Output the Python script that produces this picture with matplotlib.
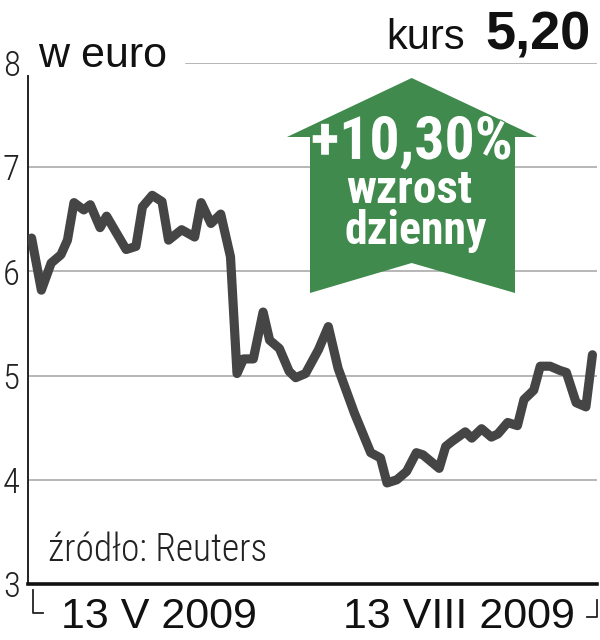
import matplotlib
matplotlib.use("Agg")
import matplotlib.pyplot as plt
import matplotlib.patheffects as pe
from matplotlib.patches import Polygon

# kurs akcji w euro, dni sesyjne od poczatku wykresu
days = [0, 3, 6, 9, 11, 13, 16, 18, 21, 23, 29, 32, 34, 37, 40, 42, 46, 50, 52, 55,
        58, 61, 63, 65, 68, 71, 73, 76, 79, 81, 84, 88, 91, 94, 99, 104, 107, 109,
        112, 115, 118, 120, 125, 127, 129, 133, 135, 138, 141, 143, 146, 149, 151,
        154, 156, 159, 162, 164, 167, 170, 172]
kurs = [6.32, 5.82, 6.08, 6.16, 6.30, 6.66, 6.59, 6.64, 6.42, 6.53, 6.21, 6.24, 6.62,
        6.73, 6.67, 6.30, 6.40, 6.33, 6.66, 6.46, 6.55, 6.14, 5.02, 5.16, 5.16, 5.61,
        5.34, 5.26, 5.04, 4.98, 5.02, 5.25, 5.47, 5.07, 4.64, 4.26, 4.21, 3.97, 4.00,
        4.08, 4.26, 4.24, 4.11, 4.32, 4.37, 4.46, 4.40, 4.49, 4.41, 4.44, 4.55, 4.52,
        4.77, 4.86, 5.09, 5.09, 5.05, 5.03, 4.74, 4.70, 5.20]
y_ticks = [3, 4, 5, 6, 7, 8]
date_pos = [39, 131]
date_labels = ["13 V 2009", "13 VIII 2009"]

LIGHT = ["Roboto Condensed", "Liberation Sans Narrow", "Liberation Sans", "DejaVu Sans"]
REG = ["Liberation Sans", "DejaVu Sans"]
BOLD = ["Roboto Condensed", "Liberation Sans Narrow", "Liberation Sans", "DejaVu Sans"]
GREEN = "#3f8a4c"

fig = plt.figure(figsize=(6, 6.4), dpi=100)
ax = fig.add_axes([28 / 600, 56 / 640, 569 / 600, 521 / 640])
ax.set_xlim(-1.1, 173.4)
ax.set_ylim(3, 8)

# linie siatki
for v in y_ticks[1:-1]:
    ax.axhline(v, color="#a3a3a3", lw=1.1, zorder=1)
ax.axhline(8, xmin=0.278, xmax=1.0, color="#a3a3a3", lw=1.1, zorder=1)

ax.plot(days, kurs, color="#454545", lw=6.6, solid_joinstyle="round",
        solid_capstyle="round", zorder=3)

for s in ["top", "right"]:
    ax.spines[s].set_visible(False)
ax.spines["left"].set_bounds(3, 7.88)
ax.spines["left"].set_linewidth(1.4)
ax.spines["left"].set_color("#222222")
ax.spines["bottom"].set_linewidth(2.6)
ax.spines["bottom"].set_color("#111111")

ax.set_yticks(y_ticks)
ax.set_yticklabels([str(v) for v in y_ticks], family=LIGHT, fontsize=25,
                   fontweight="light", color="#222222")
ax.tick_params(axis="y", length=0, pad=6)
ax.set_xticks(date_pos)
ax.set_xticklabels(date_labels, family=REG, fontsize=31, color="#111111")
ax.tick_params(axis="x", length=0, pad=9)

# narozniki przy osi x
ax.plot([0.009, 0.009, 0.027], [-0.012, -0.056, -0.056], transform=ax.transAxes,
        color="#222222", lw=1.3, clip_on=False)
ax.plot([0.982, 1.0, 1.0], [-0.064, -0.064, -0.031], transform=ax.transAxes,
        color="#222222", lw=1.3, clip_on=False)

fig.text(38 / 600, 1 - 67 / 640, "w euro", family=REG, fontsize=31,
         color="#111111", va="baseline", ha="left")
fig.text(465 / 600, 1 - 49 / 640, "kurs", family=REG, fontsize=30,
         color="#111111", va="baseline", ha="right")
fig.text(591 / 600, 1 - 49 / 640, "5,20", family=REG, fontsize=39,
         fontweight="bold", color="#111111", va="baseline", ha="right")
fig.text(48 / 600, 1 - 561 / 640, "źródło: Reuters", family=LIGHT, fontsize=27,
         fontweight="light", color="#222222", va="baseline", ha="left")

# zielona strzalka
arrow_px = [(411.7, 78), (537, 137), (515, 137), (515, 293), (411.7, 263),
            (310, 293), (310, 137), (287, 137)]
arrow = Polygon([(x / 600, 1 - y / 640) for x, y in arrow_px], closed=True,
                facecolor=GREEN, edgecolor="none", transform=fig.transFigure,
                zorder=5)
fig.patches.append(arrow)
stroke = [pe.withStroke(linewidth=1.5, foreground=GREEN)]
fig.text(412 / 600, 1 - 159 / 640, "+10,30%", family=BOLD, fontsize=43,
         fontweight="bold", color="white", ha="center", va="baseline",
         path_effects=stroke, zorder=6)
fig.text(409 / 600, 1 - 203 / 640, "wzrost", family=BOLD, fontsize=34,
         fontweight="bold", color="white", ha="center", va="baseline", zorder=6)
fig.text(416 / 600, 1 - 244 / 640, "dzienny", family=BOLD, fontsize=33,
         fontweight="bold", color="white", ha="center", va="baseline", zorder=6)

fig.savefig("out.png", dpi=100)
